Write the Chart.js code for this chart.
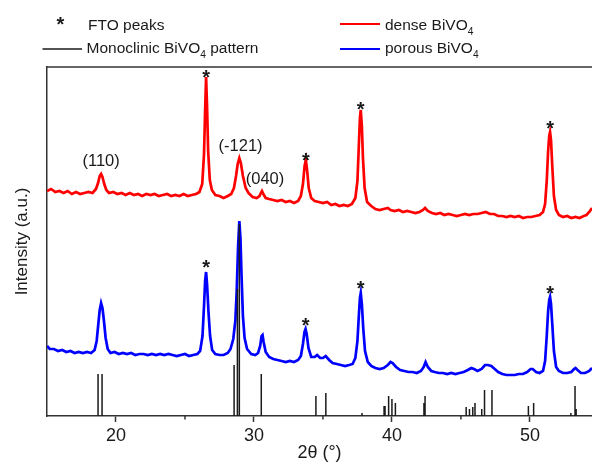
<!DOCTYPE html>
<html>
<head>
<meta charset="utf-8">
<script src="https://cdn.jsdelivr.net/npm/chart.js@4.4.0/dist/chart.umd.min.js"></script>
<style>
  html, body { margin: 0; padding: 0; background: #fff; }
  canvas { display: block; }
</style>
</head>
<body>
<canvas id="xrd" width="592" height="464"></canvas>
<script>
const xTicks = [20, 30, 40, 50];
const xMinor = [25, 35, 45];

// dense BiVO4, [2theta, intensity]
const dense = [[15,225],[15.3,227],[15.6,224],[15.9,225],[16.2,223],[16.5,225],[16.8,222],[17.1,224],[17.4,222],[17.7,223],[18,224],[18.3,223],[18.55,227],[18.7,233],[18.82,240],[18.92,242],[19.02,239],[19.15,232],[19.3,226],[19.5,223],[19.8,224],[20.1,222],[20.4,223],[20.7,221],[21,223],[21.3,221],[21.6,222],[21.9,220],[22.2,222],[22.5,221],[22.8,222],[23.1,220],[23.4,221],[23.7,222],[24,220],[24.3,221],[24.6,220],[24.9,222],[25.2,220],[25.5,221],[25.8,222],[26.05,224],[26.25,232],[26.38,262],[26.46,305],[26.53,339],[26.6,310],[26.68,265],[26.8,236],[26.95,226],[27.2,221],[27.5,220],[27.8,218],[28.1,220],[28.35,222],[28.55,228],[28.7,240],[28.82,252],[28.94,258],[29.05,253],[29.2,240],[29.4,228],[29.6,223],[29.9,219],[30.2,218],[30.4,220],[30.5,223],[30.58,225],[30.68,222],[30.85,218],[31.1,217],[31.4,216],[31.7,215],[32,216],[32.3,214],[32.6,215],[32.9,213],[33.2,215],[33.4,220],[33.55,232],[33.67,250],[33.76,256],[33.85,246],[33.97,228],[34.15,218],[34.4,215],[34.7,214],[35,213],[35.3,214],[35.6,211],[35.9,212],[36.2,210],[36.5,211],[36.8,210],[37.1,212],[37.35,218],[37.5,235],[37.6,270],[37.68,298],[37.74,306],[37.82,290],[37.9,258],[38.02,228],[38.2,214],[38.5,210],[38.8,207],[39.1,206],[39.4,207],[39.7,208],[39.9,206],[40.2,205],[40.5,206],[40.8,204],[41.1,205],[41.4,204],[41.7,203],[42,204],[42.25,206],[42.4,208],[42.6,205],[42.9,203],[43.2,202],[43.5,203],[43.8,201],[44.1,202],[44.4,201],[44.7,200],[45,201],[45.3,202],[45.6,201],[45.9,202],[46.2,202],[46.5,203],[46.8,204],[47.1,202],[47.4,202],[47.7,200],[48,200],[48.3,199],[48.6,200],[48.9,199],[49.2,200],[49.5,198],[49.8,199],[50.1,199],[50.4,200],[50.7,201],[50.95,204],[51.1,212],[51.22,235],[51.32,265],[51.4,280],[51.46,284],[51.53,276],[51.62,250],[51.74,220],[51.9,206],[52.1,201],[52.4,199],[52.7,200],[53,198],[53.3,199],[53.6,198],[53.9,200],[54.1,201],[54.3,204],[54.5,208]];

// porous BiVO4
const porous = [[15,70],[15.2,67],[15.5,67],[15.8,65],[16.1,66],[16.4,64],[16.7,65],[17,63],[17.3,64],[17.6,63],[17.9,64],[18.2,63],[18.45,66],[18.6,75],[18.72,92],[18.82,106],[18.92,113],[19.02,108],[19.12,96],[19.25,78],[19.4,67],[19.6,63],[19.9,64],[20.2,62],[20.5,63],[20.8,62],[21.1,63],[21.4,61],[21.7,62],[22,62],[22.3,61],[22.6,62],[22.9,61],[23.2,62],[23.5,61],[23.8,62],[24.1,61],[24.4,60],[24.7,61],[25,62],[25.3,60],[25.6,61],[25.9,62],[26.1,65],[26.27,80],[26.38,110],[26.46,135],[26.53,144],[26.6,132],[26.7,105],[26.82,80],[26.97,66],[27.2,62],[27.5,61],[27.8,61],[28.1,63],[28.3,67],[28.5,77],[28.65,95],[28.75,125],[28.85,170],[28.94,195],[29.02,178],[29.1,140],[29.2,100],[29.32,78],[29.5,67],[29.8,62],[30.1,61],[30.3,63],[30.45,70],[30.55,80],[30.62,81],[30.7,74],[30.85,64],[31.1,59],[31.4,57],[31.7,56],[32,55],[32.3,54],[32.6,55],[32.9,54],[33.2,56],[33.4,60],[33.55,72],[33.66,84],[33.74,87],[33.82,82],[33.95,68],[34.15,59],[34.4,59],[34.58,61],[34.8,58],[35,58],[35.2,60],[35.45,56],[35.7,53],[36,52],[36.3,51],[36.6,50],[36.9,51],[37.15,52],[37.35,58],[37.5,75],[37.6,100],[37.68,118],[37.74,123],[37.82,112],[37.92,88],[38.05,65],[38.25,54],[38.5,50],[38.8,48],[39.1,47],[39.4,48],[39.7,51],[39.9,54],[40.05,53],[40.3,49],[40.6,46],[40.9,45],[41.2,44],[41.5,44],[41.8,43],[42.1,45],[42.3,49],[42.44,54],[42.6,49],[42.85,45],[43.1,44],[43.4,43],[43.7,43],[44,42],[44.3,43],[44.6,42],[44.9,43],[45.2,44],[45.5,46],[45.75,48],[45.95,47],[46.2,45],[46.5,47],[46.75,51],[46.95,51],[47.2,50],[47.45,47],[47.7,44],[48,42],[48.3,41],[48.6,41],[48.9,41],[49.2,42],[49.5,42],[49.8,44],[50.05,47],[50.2,47],[50.45,44],[50.7,43],[50.95,45],[51.1,55],[51.22,80],[51.32,105],[51.4,116],[51.46,119],[51.53,112],[51.62,92],[51.74,65],[51.9,49],[52.1,45],[52.4,43],[52.7,43],[53,44],[53.2,47],[53.3,48],[53.45,46],[53.7,43],[54,43],[54.3,45],[54.5,48]];

// monoclinic BiVO4 reference pattern
const refPos    = [18.70, 18.99, 28.56, 28.80, 28.94, 30.53, 34.49, 35.21, 37.83, 39.43, 39.50, 39.76, 40.00, 40.25, 42.32, 42.40, 45.38, 45.62, 45.86, 46.02, 46.51, 46.71, 47.25, 49.89, 50.27, 52.97, 53.27, 53.35];
const refHeight = [42, 42, 51, 127, 192, 42, 20, 23, 3, 10, 10, 20, 17, 13, 13, 20, 9, 7, 9, 13, 7, 26, 26, 10, 13, 3, 30, 7];

// FTO peak markers
const denseStars  = [[26.53, 344], [33.76, 261], [37.74, 312], [51.46, 293]];
const porousStars = [[26.53, 154], [33.74, 96], [37.74, 133], [51.46, 128]];

const hklText = ["(110)", "(-121)", "(040)"];
const hklPos  = [[18.92, 255], [29.03, 270], [30.8, 237]];

const FONT = "Arial, 'Liberation Sans', sans-serif";
const INK = "#1a1a1a";

let refLines = [];
refPos.forEach((p, i) => {
  refLines.push({ x: p, y: 0 }, { x: p, y: refHeight[i] }, { x: p, y: null });
});

function toPts(arr) {
  return arr.map((d) => ({ x: d[0], y: d[1] }));
}

// text with a subscript part, left aligned, alphabetic baseline
function subText(ctx, parts, x, y, size) {
  parts.forEach((p) => {
    if (p.sub) {
      ctx.font = (size * 0.66) + "px " + FONT;
      ctx.fillText(p.t, x, y + size * 0.33);
    } else {
      ctx.font = size + "px " + FONT;
      ctx.fillText(p.t, x, y);
    }
    x += ctx.measureText(p.t).width;
  });
}

const decor = {
  id: "decor",
  afterDatasetsDraw(chart) {
    const ctx = chart.ctx;
    const xs = chart.scales.x;
    const ys = chart.scales.y;
    ctx.save();
    ctx.fillStyle = INK;
    ctx.textAlign = "center";
    ctx.textBaseline = "alphabetic";
    ctx.font = "bold 20px " + FONT;
    denseStars.concat(porousStars).forEach((s) => {
      ctx.fillText("*", xs.getPixelForValue(s[0]), ys.getPixelForValue(s[1]) + 11.5);
    });
    ctx.font = "16.5px " + FONT;
    ctx.textBaseline = "middle";
    hklText.forEach((t, i) => {
      ctx.fillText(t, xs.getPixelForValue(hklPos[i][0]), ys.getPixelForValue(hklPos[i][1]));
    });
    ctx.restore();
  },
  afterDraw(chart) {
    const ctx = chart.ctx;
    const a = chart.chartArea;
    const xs = chart.scales.x;
    ctx.save();
    // top frame line
    ctx.strokeStyle = "#333";
    ctx.lineWidth = 1.5;
    ctx.beginPath();
    ctx.moveTo(a.left, a.top);
    ctx.lineTo(a.right, a.top);
    ctx.stroke();
    // minor ticks
    xMinor.forEach((v) => {
      const px = xs.getPixelForValue(v);
      ctx.beginPath();
      ctx.moveTo(px, a.bottom);
      ctx.lineTo(px, a.bottom + 3.5);
      ctx.stroke();
    });

    // legend
    ctx.fillStyle = INK;
    ctx.textBaseline = "alphabetic";
    ctx.font = "bold 20px " + FONT;
    ctx.textAlign = "center";
    ctx.fillText("*", 60.5, 31);
    ctx.textAlign = "left";
    subText(ctx, [{ t: "FTO peaks" }], 88, 29.5, 15.5);
    subText(ctx, [{ t: "Monoclinic BiVO" }, { t: "4", sub: true }, { t: " pattern" }], 86.5, 53, 15.5);
    subText(ctx, [{ t: "dense BiVO" }, { t: "4", sub: true }], 385, 29.5, 15.5);
    subText(ctx, [{ t: "porous BiVO" }, { t: "4", sub: true }], 385, 53, 15.5);

    ctx.lineWidth = 1.5;
    ctx.strokeStyle = INK;
    ctx.beginPath(); ctx.moveTo(42.5, 49); ctx.lineTo(82, 49); ctx.stroke();
    ctx.lineWidth = 2;
    ctx.strokeStyle = "#ff0000";
    ctx.beginPath(); ctx.moveTo(340, 24); ctx.lineTo(380, 24); ctx.stroke();
    ctx.strokeStyle = "#0000ff";
    ctx.beginPath(); ctx.moveTo(340, 49); ctx.lineTo(380, 49); ctx.stroke();
    ctx.restore();
  },
};

new Chart(document.getElementById("xrd"), {
  type: "line",
  data: {
    datasets: [
      {
        label: "Monoclinic BiVO4 pattern",
        data: refLines,
        borderColor: INK,
        borderWidth: 1.5,
        pointRadius: 0,
        spanGaps: false,
        order: 0,
      },
      {
        label: "porous BiVO4",
        data: toPts(porous),
        borderColor: "#0000ff",
        borderWidth: 2.7,
        pointRadius: 0,
        order: 1,
      },
      {
        label: "dense BiVO4",
        data: toPts(dense),
        borderColor: "#ff0000",
        borderWidth: 2.7,
        pointRadius: 0,
        order: 2,
      },
    ],
  },
  options: {
    responsive: false,
    animation: false,
    layout: { padding: { top: 67, left: 0, right: 0, bottom: 0 } },
    elements: { line: { tension: 0 } },
    plugins: { legend: { display: false }, tooltip: { enabled: false } },
    scales: {
      x: {
        type: "linear",
        min: 15,
        max: 54.5,
        offset: false,
        afterBuildTicks: (s) => { s.ticks = xTicks.map((v) => ({ value: v })); },
        afterFit: (s) => { s.height = 48; },
        ticks: { font: { family: FONT, size: 18 }, color: INK, padding: 3, maxRotation: 0, autoSkip: false },
        grid: { drawOnChartArea: false, tickLength: 6, tickColor: "#333", tickWidth: 1.5 },
        border: { color: "#333", width: 1.5 },
        title: { display: true, text: "2θ (°)", font: { family: FONT, size: 18 }, color: INK, padding: { top: 0, bottom: 0 } },
      },
      y: {
        min: 0,
        max: 349,
        afterFit: (s) => { s.width = 47; },
        ticks: { display: false },
        grid: { drawOnChartArea: false, drawTicks: false },
        border: { color: "#333", width: 1.5 },
        title: { display: true, text: "Intensity (a.u.)", font: { family: FONT, size: 17 }, color: INK, padding: { top: 12, bottom: 0 } },
      },
    },
  },
  plugins: [decor],
});
</script>
</body>
</html>
